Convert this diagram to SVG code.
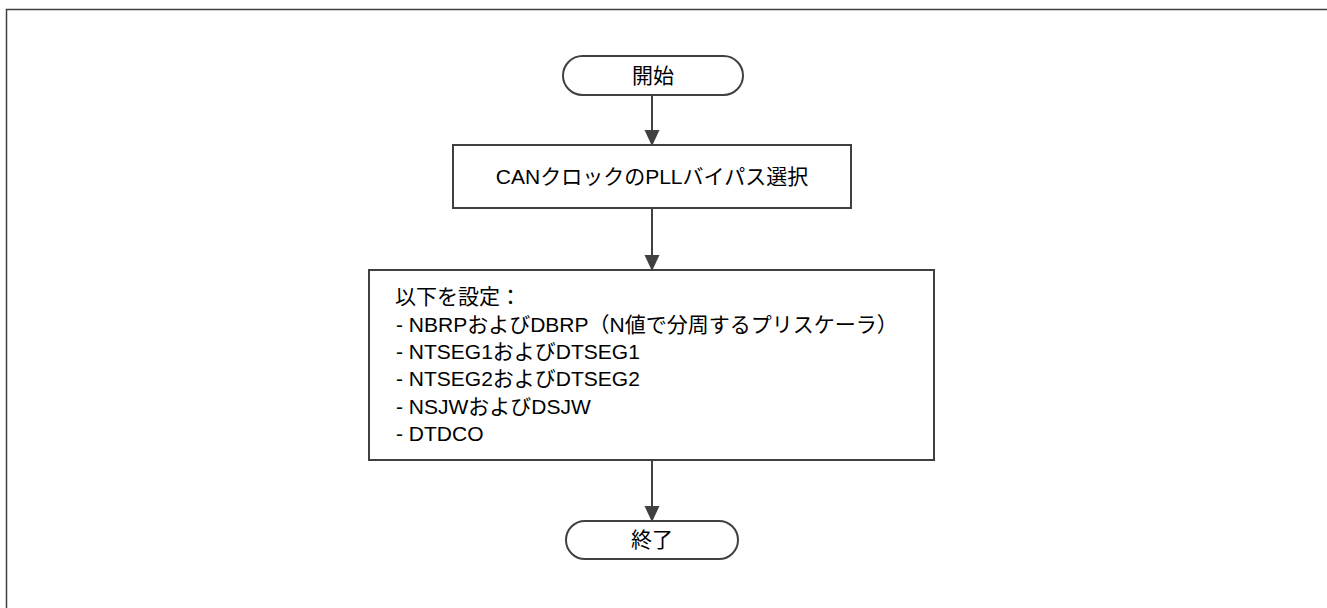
<svg xmlns="http://www.w3.org/2000/svg" width="1327" height="608" viewBox="0 0 1327 608">
<style>
.frame{fill:none;stroke:#404040;stroke-width:1.5}
.shape{fill:#ffffff;stroke:#404040;stroke-width:2}
.conn{fill:none;stroke:#404040;stroke-width:2}
text{font-family:"Liberation Sans","Noto Sans CJK JP",sans-serif;font-size:21px;fill:#000000}
.c{text-anchor:middle}
</style>
<defs>
<marker id="arr" markerWidth="16" markerHeight="17" refX="16" refY="8" orient="auto" markerUnits="userSpaceOnUse" viewBox="0 0 17 16">
<path d="M0,0 L17,8 L0,16 Z" fill="#404040"/>
</marker>
</defs>
<rect class="frame" x="6.5" y="9.5" width="1330" height="610"/>
<g id="connectors">
<line class="conn" x1="652" y1="95" x2="652" y2="145" marker-end="url(#arr)"/>
<line class="conn" x1="652" y1="208" x2="652" y2="270" marker-end="url(#arr)"/>
<line class="conn" x1="652" y1="460" x2="652" y2="521" marker-end="url(#arr)"/>
</g>
<g id="start">
<rect class="shape" x="563" y="56" width="180" height="39" rx="19.5" ry="19.5"/>
<text class="c" x="653" y="83">開始</text>
</g>
<g id="pll">
<rect class="shape" x="453" y="145" width="398" height="63"/>
<text class="c" x="652" y="184">CANクロックのPLLバイパス選択</text>
</g>
<g id="settings">
<rect class="shape" x="369" y="270" width="565" height="190"/>
<text x="395" y="304">以下を設定：</text>
<text x="396" y="332">- NBRPおよびDBRP（N値で分周するプリスケーラ）</text>
<text x="396" y="359">- NTSEG1およびDTSEG1</text>
<text x="396" y="386">- NTSEG2およびDTSEG2</text>
<text x="396" y="414">- NSJWおよびDSJW</text>
<text x="396" y="441">- DTDCO</text>
</g>
<g id="end">
<rect class="shape" x="566" y="521" width="172" height="38" rx="19" ry="19"/>
<text class="c" x="652" y="547">終了</text>
</g>
</svg>
